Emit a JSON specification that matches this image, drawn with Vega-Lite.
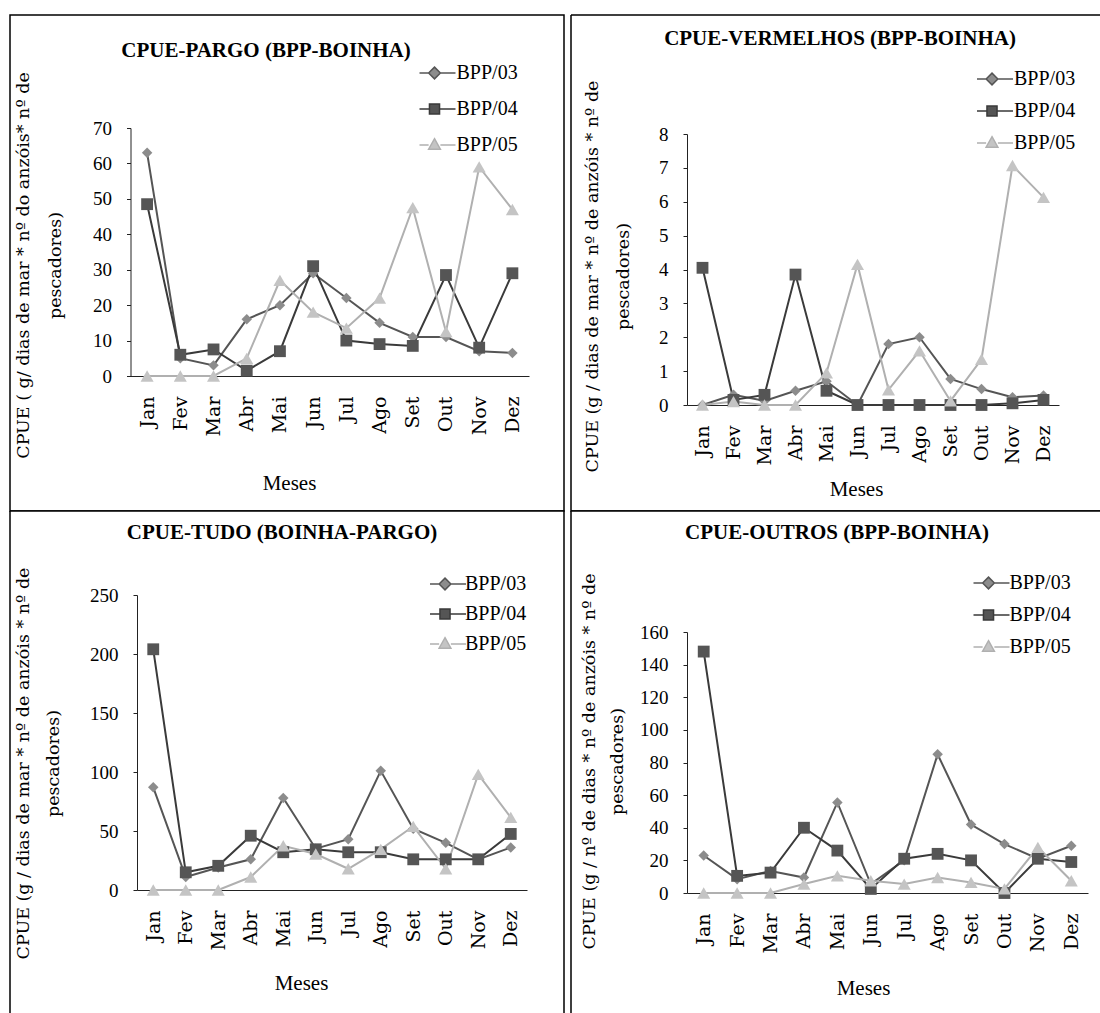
{
"$schema": "https://vega.github.io/schema/vega-lite/v6.json",
"background": "white",
"padding": {"left": 9, "top": 14, "right": 0, "bottom": 0},
"columns": 2,
"spacing": {"row": 0, "column": 7},
"bounds": "flush",
"resolve": {"scale": {"color": "independent", "shape": "independent", "fill": "independent", "size": "independent"}, "legend": {"color": "independent", "shape": "independent", "fill": "independent", "size": "independent"}},
"datasets": {
"pargo": [
{"mes":"Jan","serie":"BPP/03","valor":63},{"mes":"Fev","serie":"BPP/03","valor":5},{"mes":"Mar","serie":"BPP/03","valor":3},{"mes":"Abr","serie":"BPP/03","valor":16},{"mes":"Mai","serie":"BPP/03","valor":20},{"mes":"Jun","serie":"BPP/03","valor":29},{"mes":"Jul","serie":"BPP/03","valor":22},{"mes":"Ago","serie":"BPP/03","valor":15},{"mes":"Set","serie":"BPP/03","valor":11},{"mes":"Out","serie":"BPP/03","valor":11},{"mes":"Nov","serie":"BPP/03","valor":7},{"mes":"Dez","serie":"BPP/03","valor":6.5},
{"mes":"Jan","serie":"BPP/04","valor":48.5},{"mes":"Fev","serie":"BPP/04","valor":6},{"mes":"Mar","serie":"BPP/04","valor":7.5},{"mes":"Abr","serie":"BPP/04","valor":1.5},{"mes":"Mai","serie":"BPP/04","valor":7},{"mes":"Jun","serie":"BPP/04","valor":31},{"mes":"Jul","serie":"BPP/04","valor":10},{"mes":"Ago","serie":"BPP/04","valor":9},{"mes":"Set","serie":"BPP/04","valor":8.5},{"mes":"Out","serie":"BPP/04","valor":28.5},{"mes":"Nov","serie":"BPP/04","valor":8},{"mes":"Dez","serie":"BPP/04","valor":29},
{"mes":"Jan","serie":"BPP/05","valor":0},{"mes":"Fev","serie":"BPP/05","valor":0},{"mes":"Mar","serie":"BPP/05","valor":0},{"mes":"Abr","serie":"BPP/05","valor":5},{"mes":"Mai","serie":"BPP/05","valor":27},{"mes":"Jun","serie":"BPP/05","valor":18},{"mes":"Jul","serie":"BPP/05","valor":13.5},{"mes":"Ago","serie":"BPP/05","valor":22},{"mes":"Set","serie":"BPP/05","valor":47.5},{"mes":"Out","serie":"BPP/05","valor":12.5},{"mes":"Nov","serie":"BPP/05","valor":59},{"mes":"Dez","serie":"BPP/05","valor":47}
],
"vermelhos": [
{"mes":"Jan","serie":"BPP/03","valor":0},{"mes":"Fev","serie":"BPP/03","valor":0.3},{"mes":"Mar","serie":"BPP/03","valor":0.12},{"mes":"Abr","serie":"BPP/03","valor":0.42},{"mes":"Mai","serie":"BPP/03","valor":0.7},{"mes":"Jun","serie":"BPP/03","valor":0},{"mes":"Jul","serie":"BPP/03","valor":1.8},{"mes":"Ago","serie":"BPP/03","valor":2.0},{"mes":"Set","serie":"BPP/03","valor":0.77},{"mes":"Out","serie":"BPP/03","valor":0.47},{"mes":"Nov","serie":"BPP/03","valor":0.23},{"mes":"Dez","serie":"BPP/03","valor":0.28},
{"mes":"Jan","serie":"BPP/04","valor":4.05},{"mes":"Fev","serie":"BPP/04","valor":0.15},{"mes":"Mar","serie":"BPP/04","valor":0.3},{"mes":"Abr","serie":"BPP/04","valor":3.85},{"mes":"Mai","serie":"BPP/04","valor":0.42},{"mes":"Jun","serie":"BPP/04","valor":0},{"mes":"Jul","serie":"BPP/04","valor":0},{"mes":"Ago","serie":"BPP/04","valor":0},{"mes":"Set","serie":"BPP/04","valor":0},{"mes":"Out","serie":"BPP/04","valor":0},{"mes":"Nov","serie":"BPP/04","valor":0.05},{"mes":"Dez","serie":"BPP/04","valor":0.15},
{"mes":"Jan","serie":"BPP/05","valor":0},{"mes":"Fev","serie":"BPP/05","valor":0.1},{"mes":"Mar","serie":"BPP/05","valor":0},{"mes":"Abr","serie":"BPP/05","valor":0},{"mes":"Mai","serie":"BPP/05","valor":0.95},{"mes":"Jun","serie":"BPP/05","valor":4.15},{"mes":"Jul","serie":"BPP/05","valor":0.45},{"mes":"Ago","serie":"BPP/05","valor":1.6},{"mes":"Set","serie":"BPP/05","valor":0.12},{"mes":"Out","serie":"BPP/05","valor":1.35},{"mes":"Nov","serie":"BPP/05","valor":7.07},{"mes":"Dez","serie":"BPP/05","valor":6.13}
],
"tudo": [
{"mes":"Jan","serie":"BPP/03","valor":87},{"mes":"Fev","serie":"BPP/03","valor":11},{"mes":"Mar","serie":"BPP/03","valor":19},{"mes":"Abr","serie":"BPP/03","valor":26},{"mes":"Mai","serie":"BPP/03","valor":78},{"mes":"Jun","serie":"BPP/03","valor":35},{"mes":"Jul","serie":"BPP/03","valor":43},{"mes":"Ago","serie":"BPP/03","valor":101},{"mes":"Set","serie":"BPP/03","valor":52},{"mes":"Out","serie":"BPP/03","valor":40},{"mes":"Nov","serie":"BPP/03","valor":26},{"mes":"Dez","serie":"BPP/03","valor":36},
{"mes":"Jan","serie":"BPP/04","valor":204},{"mes":"Fev","serie":"BPP/04","valor":15},{"mes":"Mar","serie":"BPP/04","valor":20.5},{"mes":"Abr","serie":"BPP/04","valor":46},{"mes":"Mai","serie":"BPP/04","valor":32},{"mes":"Jun","serie":"BPP/04","valor":34.5},{"mes":"Jul","serie":"BPP/04","valor":32},{"mes":"Ago","serie":"BPP/04","valor":32},{"mes":"Set","serie":"BPP/04","valor":26},{"mes":"Out","serie":"BPP/04","valor":26},{"mes":"Nov","serie":"BPP/04","valor":26},{"mes":"Dez","serie":"BPP/04","valor":47.5},
{"mes":"Jan","serie":"BPP/05","valor":0},{"mes":"Fev","serie":"BPP/05","valor":0},{"mes":"Mar","serie":"BPP/05","valor":0},{"mes":"Abr","serie":"BPP/05","valor":11},{"mes":"Mai","serie":"BPP/05","valor":37.5},{"mes":"Jun","serie":"BPP/05","valor":30.5},{"mes":"Jul","serie":"BPP/05","valor":18},{"mes":"Ago","serie":"BPP/05","valor":34.5},{"mes":"Set","serie":"BPP/05","valor":54},{"mes":"Out","serie":"BPP/05","valor":18},{"mes":"Nov","serie":"BPP/05","valor":98},{"mes":"Dez","serie":"BPP/05","valor":61.5}
],
"outros": [
{"mes":"Jan","serie":"BPP/03","valor":23},{"mes":"Fev","serie":"BPP/03","valor":8.5},{"mes":"Mar","serie":"BPP/03","valor":13.5},{"mes":"Abr","serie":"BPP/03","valor":9.5},{"mes":"Mai","serie":"BPP/03","valor":55.5},{"mes":"Jun","serie":"BPP/03","valor":5.5},{"mes":"Jul","serie":"BPP/03","valor":20},{"mes":"Ago","serie":"BPP/03","valor":85},{"mes":"Set","serie":"BPP/03","valor":42},{"mes":"Out","serie":"BPP/03","valor":30},{"mes":"Nov","serie":"BPP/03","valor":21},{"mes":"Dez","serie":"BPP/03","valor":29},
{"mes":"Jan","serie":"BPP/04","valor":148},{"mes":"Fev","serie":"BPP/04","valor":10.5},{"mes":"Mar","serie":"BPP/04","valor":12.5},{"mes":"Abr","serie":"BPP/04","valor":40},{"mes":"Mai","serie":"BPP/04","valor":26},{"mes":"Jun","serie":"BPP/04","valor":2.5},{"mes":"Jul","serie":"BPP/04","valor":21},{"mes":"Ago","serie":"BPP/04","valor":24},{"mes":"Set","serie":"BPP/04","valor":20},{"mes":"Out","serie":"BPP/04","valor":0},{"mes":"Nov","serie":"BPP/04","valor":21},{"mes":"Dez","serie":"BPP/04","valor":19},
{"mes":"Jan","serie":"BPP/05","valor":0},{"mes":"Fev","serie":"BPP/05","valor":0},{"mes":"Mar","serie":"BPP/05","valor":0},{"mes":"Abr","serie":"BPP/05","valor":5.5},{"mes":"Mai","serie":"BPP/05","valor":10.5},{"mes":"Jun","serie":"BPP/05","valor":7.5},{"mes":"Jul","serie":"BPP/05","valor":5.5},{"mes":"Ago","serie":"BPP/05","valor":9.5},{"mes":"Set","serie":"BPP/05","valor":6.5},{"mes":"Out","serie":"BPP/05","valor":2.5},{"mes":"Nov","serie":"BPP/05","valor":28},{"mes":"Dez","serie":"BPP/05","valor":7.5}
]
},
"concat": [
{
"width": 554, "height": 496,
"view": {"stroke": "black", "strokeWidth": 1.5, "fill": "white"},
"title": {"text": "CPUE-PARGO (BPP-BOINHA)", "anchor": "middle", "frame": "group", "offset": -57, "baseline": "middle", "dx": -21},
"data": {"name": "pargo"},
"encoding": {
"x": {"field": "mes", "type": "ordinal", "sort": ["Jan","Fev","Mar","Abr","Mai","Jun","Jul","Ago","Set","Out","Nov","Dez"], "scale": {"type": "point", "padding": 0.5, "range": [120.5, 519]}, "axis": {"offset": -135, "title": "Meses", "titleX": 279, "titleY": 107}},
"y": {"field": "valor", "type": "quantitative", "scale": {"domain": [0, 70], "nice": false, "range": [361, 113]}, "axis": {"offset": -120.5, "values": [0,10,20,30,40,50,60,70], "title": ["CPUE ( g/ dias de mar * nº do anzóis* nº de", "pescadores)"], "titleX": -107.5, "titleY": 250, "titleLineHeight": 32}}
},
"layer": [
{"mark": {"type": "line", "strokeWidth": 2}, "encoding": {"color": {"field": "serie", "type": "nominal", "scale": {"range": ["#555555","#3a3a3a","#b0b0b0"]}, "legend": {"legendX": 409.5, "legendY": 40, "clipHeight": 36, "symbolSize": 784, "symbolStrokeWidth": 1.5, "labelOffset": 7, "encode": {"symbols": {"update": {"shape": {"signal": "datum.value === 'BPP/03' ? 'M-1.5,0H-0.42M0.42,0H1.5M0,-0.42L0.42,0L0,0.42L-0.42,0Z' : datum.value === 'BPP/04' ? 'M-1.5,0H-0.36M0.36,0H1.5M-0.36,-0.36H0.36V0.36H-0.36Z' : 'M-1.5,0H-0.42M0.42,0H1.5M0,-0.45L0.42,0.3L-0.42,0.3Z'"}, "fill": {"signal": "datum.value === 'BPP/03' ? '#8c8c8c' : datum.value === 'BPP/04' ? '#555555' : '#c4c4c4'"}}}}}}}},
{"mark": {"type": "point", "filled": true, "opacity": 1}, "encoding": {
"shape": {"field": "serie", "type": "nominal", "scale": {"domain": ["BPP/03","BPP/04","BPP/05"], "range": ["diamond","square","triangle-up"]}, "legend": null},
"fill": {"field": "serie", "type": "nominal", "scale": {"domain": ["BPP/03","BPP/04","BPP/05"], "range": ["#8c8c8c","#555555","#c4c4c4"]}, "legend": null},
"size": {"field": "serie", "type": "nominal", "scale": {"domain": ["BPP/03","BPP/04","BPP/05"], "range": [110, 170, 130]}, "legend": null}
}}
]
},
{
"width": 529, "height": 496,
"view": {"stroke": "black", "strokeWidth": 1.5, "fill": "white", "strokeDash": [529, 496, 1025, 0]},
"title": {"text": "CPUE-VERMELHOS (BPP-BOINHA)", "anchor": "middle", "frame": "group", "offset": -45, "baseline": "middle", "dx": 4.5},
"data": {"name": "vermelhos"},
"encoding": {
"x": {"field": "mes", "type": "ordinal", "sort": ["Jan","Fev","Mar","Abr","Mai","Jun","Jul","Ago","Set","Out","Nov","Dez"], "scale": {"type": "point", "padding": 0.5, "range": [116, 488]}, "axis": {"offset": -106, "title": "Meses", "titleX": 285, "titleY": 84}},
"y": {"field": "valor", "type": "quantitative", "scale": {"domain": [0, 8], "nice": false, "range": [390, 119]}, "axis": {"offset": -116, "values": [0,1,2,3,4,5,6,7,8], "title": ["CPUE (g / dias de mar * nº de anzóis * nº de", "pescadores)"], "titleX": -95, "titleY": 261, "titleLineHeight": 31}}
},
"layer": [
{"mark": {"type": "line", "strokeWidth": 2}, "encoding": {"color": {"field": "serie", "type": "nominal", "scale": {"range": ["#555555","#3a3a3a","#b0b0b0"]}, "legend": {"legendX": 406, "legendY": 48, "clipHeight": 32, "symbolSize": 784, "symbolStrokeWidth": 1.5, "labelOffset": 7, "encode": {"symbols": {"update": {"shape": {"signal": "datum.value === 'BPP/03' ? 'M-1.5,0H-0.42M0.42,0H1.5M0,-0.42L0.42,0L0,0.42L-0.42,0Z' : datum.value === 'BPP/04' ? 'M-1.5,0H-0.36M0.36,0H1.5M-0.36,-0.36H0.36V0.36H-0.36Z' : 'M-1.5,0H-0.42M0.42,0H1.5M0,-0.45L0.42,0.3L-0.42,0.3Z'"}, "fill": {"signal": "datum.value === 'BPP/03' ? '#8c8c8c' : datum.value === 'BPP/04' ? '#555555' : '#c4c4c4'"}}}}}}}},
{"mark": {"type": "point", "filled": true, "opacity": 1}, "encoding": {
"shape": {"field": "serie", "type": "nominal", "scale": {"domain": ["BPP/03","BPP/04","BPP/05"], "range": ["diamond","square","triangle-up"]}, "legend": null},
"fill": {"field": "serie", "type": "nominal", "scale": {"domain": ["BPP/03","BPP/04","BPP/05"], "range": ["#8c8c8c","#555555","#c4c4c4"]}, "legend": null},
"size": {"field": "serie", "type": "nominal", "scale": {"domain": ["BPP/03","BPP/04","BPP/05"], "range": [110, 170, 130]}, "legend": null}
}}
]
},
{
"width": 554, "height": 502,
"view": {"stroke": "black", "strokeWidth": 1.5, "fill": "white", "strokeDash": [1056, 554, 502, 0]},
"title": {"text": "CPUE-TUDO (BOINHA-PARGO)", "anchor": "middle", "frame": "group", "offset": -43, "baseline": "middle", "dx": -5},
"data": {"name": "tudo"},
"encoding": {
"x": {"field": "mes", "type": "ordinal", "sort": ["Jan","Fev","Mar","Abr","Mai","Jun","Jul","Ago","Set","Out","Nov","Dez"], "scale": {"type": "point", "padding": 0.5, "range": [127, 517]}, "axis": {"offset": -123, "title": "Meses", "titleX": 291, "titleY": 93}},
"y": {"field": "valor", "type": "quantitative", "scale": {"domain": [0, 250], "nice": false, "range": [379, 84]}, "axis": {"offset": -127, "values": [0,50,100,150,200,250], "title": ["CPUE (g / dias de mar * nº de anzóis * nº de", "pescadores)"], "titleX": -114, "titleY": 252, "titleLineHeight": 30}}
},
"layer": [
{"mark": {"type": "line", "strokeWidth": 2}, "encoding": {"color": {"field": "serie", "type": "nominal", "scale": {"range": ["#555555","#3a3a3a","#b0b0b0"]}, "legend": {"legendX": 420, "legendY": 58, "clipHeight": 30, "symbolSize": 784, "symbolStrokeWidth": 1.5, "labelOffset": 5, "encode": {"symbols": {"update": {"shape": {"signal": "datum.value === 'BPP/03' ? 'M-1.5,0H-0.42M0.42,0H1.5M0,-0.42L0.42,0L0,0.42L-0.42,0Z' : datum.value === 'BPP/04' ? 'M-1.5,0H-0.36M0.36,0H1.5M-0.36,-0.36H0.36V0.36H-0.36Z' : 'M-1.5,0H-0.42M0.42,0H1.5M0,-0.45L0.42,0.3L-0.42,0.3Z'"}, "fill": {"signal": "datum.value === 'BPP/03' ? '#8c8c8c' : datum.value === 'BPP/04' ? '#555555' : '#c4c4c4'"}}}}}}}},
{"mark": {"type": "point", "filled": true, "opacity": 1}, "encoding": {
"shape": {"field": "serie", "type": "nominal", "scale": {"domain": ["BPP/03","BPP/04","BPP/05"], "range": ["diamond","square","triangle-up"]}, "legend": null},
"fill": {"field": "serie", "type": "nominal", "scale": {"domain": ["BPP/03","BPP/04","BPP/05"], "range": ["#8c8c8c","#555555","#c4c4c4"]}, "legend": null},
"size": {"field": "serie", "type": "nominal", "scale": {"domain": ["BPP/03","BPP/04","BPP/05"], "range": [110, 170, 130]}, "legend": null}
}}
]
},
{
"width": 529, "height": 502,
"view": {"stroke": "black", "strokeWidth": 1.5, "fill": "white", "strokeDash": [529, 1031, 502, 0]},
"title": {"text": "CPUE-OUTROS (BPP-BOINHA)", "anchor": "middle", "frame": "group", "offset": -43, "baseline": "middle", "dx": 1.5},
"data": {"name": "outros"},
"encoding": {
"x": {"field": "mes", "type": "ordinal", "sort": ["Jan","Fev","Mar","Abr","Mai","Jun","Jul","Ago","Set","Out","Nov","Dez"], "scale": {"type": "point", "padding": 0.5, "range": [116, 517]}, "axis": {"offset": -120, "title": "Meses", "titleX": 292, "titleY": 95}},
"y": {"field": "valor", "type": "quantitative", "scale": {"domain": [0, 160], "nice": false, "range": [382, 121]}, "axis": {"offset": -116, "values": [0,20,40,60,80,100,120,140,160], "title": ["CPUE (g / nº de dias * nº de anzóis * nº de", "pescadores)"], "titleX": -98, "titleY": 250, "titleLineHeight": 28}}
},
"layer": [
{"mark": {"type": "line", "strokeWidth": 2}, "encoding": {"color": {"field": "serie", "type": "nominal", "scale": {"range": ["#555555","#3a3a3a","#b0b0b0"]}, "legend": {"legendX": 402.5, "legendY": 56, "clipHeight": 32, "symbolSize": 784, "symbolStrokeWidth": 1.5, "labelOffset": 6, "encode": {"symbols": {"update": {"shape": {"signal": "datum.value === 'BPP/03' ? 'M-1.5,0H-0.42M0.42,0H1.5M0,-0.42L0.42,0L0,0.42L-0.42,0Z' : datum.value === 'BPP/04' ? 'M-1.5,0H-0.36M0.36,0H1.5M-0.36,-0.36H0.36V0.36H-0.36Z' : 'M-1.5,0H-0.42M0.42,0H1.5M0,-0.45L0.42,0.3L-0.42,0.3Z'"}, "fill": {"signal": "datum.value === 'BPP/03' ? '#8c8c8c' : datum.value === 'BPP/04' ? '#555555' : '#c4c4c4'"}}}}}}}},
{"mark": {"type": "point", "filled": true, "opacity": 1}, "encoding": {
"shape": {"field": "serie", "type": "nominal", "scale": {"domain": ["BPP/03","BPP/04","BPP/05"], "range": ["diamond","square","triangle-up"]}, "legend": null},
"fill": {"field": "serie", "type": "nominal", "scale": {"domain": ["BPP/03","BPP/04","BPP/05"], "range": ["#8c8c8c","#555555","#c4c4c4"]}, "legend": null},
"size": {"field": "serie", "type": "nominal", "scale": {"domain": ["BPP/03","BPP/04","BPP/05"], "range": [110, 170, 130]}, "legend": null}
}}
]
}
],
"config": {
"font": "Liberation Serif",
"title": {"font": "Liberation Serif", "fontSize": 21, "fontWeight": "bold", "color": "black"},
"axis": {"labelFont": "Liberation Serif", "labelFontSize": 19, "labelColor": "black", "titleFont": "Liberation Serif", "titleFontSize": 21, "titleFontWeight": "normal", "titleColor": "black", "domainColor": "#222222", "domainWidth": 1, "tickColor": "#222222", "grid": false},
"axisX": {"ticks": false, "tickSize": 0, "labelAngle": -90, "labelAlign": "right", "labelBaseline": "middle", "labelPadding": 20, "labelFont": "DejaVu Serif", "labelFontSize": 19, "titleBaseline": "middle", "titleAlign": "center", "titleAngle": 0},
"axisY": {"tickSize": 4, "labelPadding": 15, "titleAngle": -90, "titleAlign": "center", "titleBaseline": "middle", "titleFont": "DejaVu Serif", "titleFontSize": 17.5},
"legend": {"orient": "none", "title": null, "labelFont": "Liberation Serif", "labelFontSize": 20, "labelColor": "black", "padding": 0, "rowPadding": 0}
}
}
